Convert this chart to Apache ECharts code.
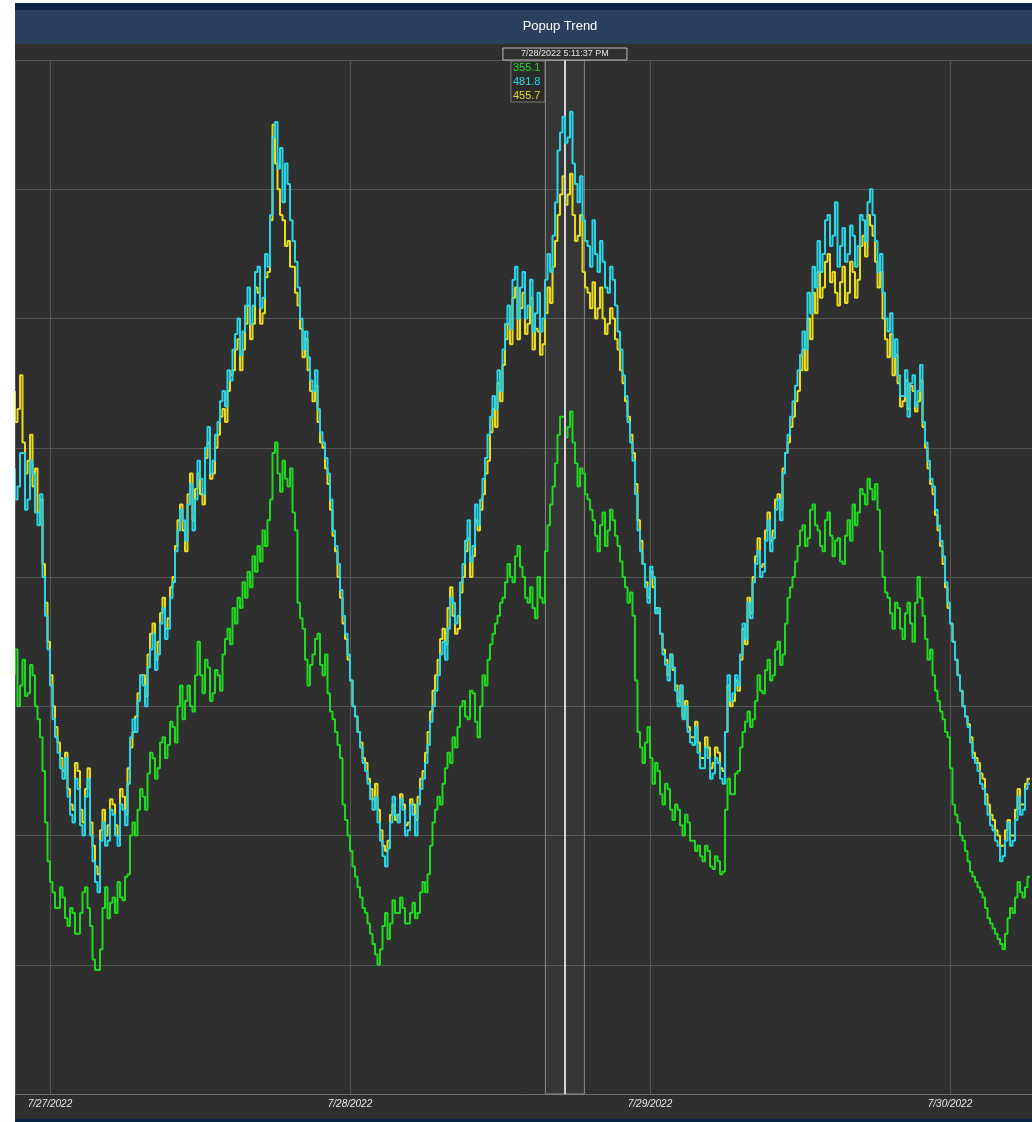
<!DOCTYPE html>
<html><head><meta charset="utf-8">
<script src="https://cdn.jsdelivr.net/npm/echarts@6/dist/echarts.min.js"></script>
<style>
html,body{margin:0;padding:0;background:#ffffff;}
#chart{position:absolute;left:15px;top:3px;width:1017px;height:1119px;}
</style></head><body><div id="chart"></div>
<script>
// ---- data ----
const titleText = 'Popup Trend';
const startTime = new Date(2022, 6, 26, 21, 12, 0).getTime();
const endTime = new Date(2022, 6, 30, 6, 33, 36).getTime();
const stepMinutes = 12;
const seriesNames = ['Green', 'Cyan', 'Yellow'];
const seriesColors = ['#1fd81f', '#2ad6e6', '#e8dc1e'];
const xAxisLabels = ['7/27/2022', '7/28/2022', '7/29/2022', '7/30/2022'];
const labelDays = [27, 28, 29, 30];
const cursorTime = new Date(2022, 6, 28, 17, 11, 37).getTime();
const cursorHalfWidthHours = 1.56;
const cursorLabel = '7/28/2022 5:11:37 PM';
const cursorValues = [355.1, 481.8, 455.7];

const greenValues = [
262,272,250,258,268,254,255,266,262,250,
245,238,225,205,190,182,178,172,172,180,
176,168,165,172,170,162,162,170,178,180,
172,165,152,148,148,156,172,180,168,174,
176,170,182,176,175,184,185,200,205,200,
210,218,215,210,224,232,230,222,226,236,
238,230,235,244,242,236,250,258,245,252,
258,250,248,262,275,262,255,268,265,252,
255,264,262,256,270,276,280,274,288,282,
292,288,298,292,302,296,308,302,312,306,
318,312,322,330,348,352,340,333,345,338,
335,342,325,318,290,284,280,268,258,266,
270,276,278,266,262,270,255,248,245,240,
235,230,212,206,200,194,188,184,180,176,
172,170,166,162,158,154,150,156,165,170,
160,166,175,170,170,176,172,166,166,170,
174,168,170,178,182,178,185,196,205,210,
215,212,220,226,232,228,238,234,242,250,
252,246,245,256,255,244,238,250,262,258,
268,274,278,282,285,290,292,298,305,300,
298,308,312,304,300,292,290,296,288,284,
300,292,290,310,320,328,335,344,355,362,
362,354,358,364,352,344,335,342,340,332,
330,326,322,316,310,320,325,312,318,326,
322,316,312,306,300,296,290,294,285,260,
240,234,228,236,242,230,220,228,225,216,
212,220,218,210,206,212,210,204,200,208,
205,198,198,194,196,192,190,196,194,188,
187,192,190,185,186,210,222,216,216,224,
225,234,240,244,248,242,245,252,262,256,
255,264,268,260,262,272,275,266,270,282,
292,296,300,306,312,318,320,312,315,326,
328,320,318,312,310,322,325,316,308,314,
315,306,305,316,322,314,328,320,325,334,
332,328,338,334,330,336,326,310,300,294,
292,286,280,290,288,280,276,286,290,282,
275,290,300,292,285,276,268,272,262,256,
252,248,245,240,238,226,212,208,205,200,
198,194,190,186,184,182,180,178,176,172,
168,166,164,162,160,158,156,162,168,172,
170,176,182,178,176,180,184
];
const cyanValues = [
342,330,335,348,348,326,330,345,340,325,
320,332,300,285,272,258,245,238,232,226,
222,230,215,208,205,222,218,204,200,215,
222,200,190,182,178,198,205,196,198,210,
208,200,196,212,210,204,220,238,245,240,
252,262,258,250,265,272,278,264,270,282,
288,276,280,292,298,310,318,326,322,314,
328,336,318,330,345,338,332,350,358,340,
345,355,360,368,372,366,380,376,388,394,
400,386,395,405,412,398,405,418,420,404,
408,425,420,440,470,476,458,466,445,460,
452,438,430,422,412,400,388,395,385,376,
372,380,365,356,352,346,340,330,318,312,
305,295,285,278,270,260,250,246,240,234,
228,225,220,214,210,215,205,198,192,188,
195,205,215,208,205,214,210,200,202,212,
208,200,212,218,222,228,235,244,250,256,
262,270,275,268,280,292,290,282,285,298,
305,314,322,306,312,328,320,330,338,346,
355,362,370,365,380,372,388,398,405,396,
415,420,400,412,418,400,405,415,395,402,
410,395,400,415,425,418,432,445,465,472,
478,468,470,480,460,452,445,455,438,430,
428,420,438,425,418,430,422,412,410,420,
415,405,395,388,378,370,360,352,345,332,
318,310,305,296,290,304,300,286,288,278,
270,266,260,270,265,256,250,258,245,250,
240,236,235,242,232,226,226,234,230,222,
224,230,228,222,220,240,262,252,255,262,
258,270,282,276,290,284,298,305,310,300,
302,314,322,310,315,326,330,322,340,348,
355,362,368,374,380,386,395,388,410,402,
420,412,430,418,425,438,440,428,432,445,
420,428,435,422,425,436,432,420,428,440,
438,430,445,450,440,430,418,425,410,400,
395,402,385,392,378,370,370,380,362,375,
378,366,372,382,360,352,345,338,335,326,
320,314,308,298,290,282,275,268,262,256,
250,246,242,236,230,228,225,220,218,212,
208,204,202,198,196,190,192,198,205,196,
198,206,215,208,210,218,220
];
const yellowValues = [
372,360,365,378,352,340,345,355,335,342,
325,330,305,290,275,262,250,242,236,230,
225,232,218,212,210,228,225,210,205,218,
226,205,196,188,185,202,210,200,204,214,
212,204,200,218,215,208,226,234,240,246,
255,262,262,254,270,278,282,268,275,286,
292,280,284,296,300,312,322,328,318,310,
332,340,322,334,340,332,328,346,352,338,
340,350,355,362,365,360,372,378,380,388,
392,380,388,398,405,392,398,412,410,398,
402,416,418,438,475,460,450,440,438,428,
430,420,420,410,405,396,385,392,380,372,
368,374,360,352,350,342,336,326,316,310,
300,292,282,276,268,260,250,246,240,236,
230,228,222,218,214,220,210,202,196,194,
198,208,212,206,208,216,212,204,205,214,
212,206,215,222,225,232,240,248,256,262,
268,276,280,274,288,296,285,278,280,294,
300,310,315,300,308,322,318,326,332,340,
345,356,365,358,375,368,382,392,398,390,
408,412,392,404,410,394,398,408,388,396,
395,386,390,402,412,406,420,430,440,448,
455,444,448,456,440,430,432,440,418,412,
410,404,414,400,404,412,400,394,398,404,
400,392,388,380,375,368,362,355,348,336,
322,314,305,298,292,302,296,288,286,278,
272,268,262,270,264,258,252,258,246,252,
242,238,238,244,236,230,230,238,234,226,
228,234,232,226,225,240,258,250,252,260,
256,268,280,274,292,286,300,308,315,304,
305,318,325,314,318,330,332,326,342,348,
352,358,362,368,372,380,388,380,400,392,
410,402,418,408,412,422,425,414,418,410,
405,414,420,406,410,422,418,408,415,428,
432,424,440,436,432,422,412,418,400,392,
385,394,378,386,375,366,368,376,365,374,
372,364,368,376,358,350,342,336,332,324,
318,312,305,296,288,282,275,268,262,256,
250,246,243,238,232,230,228,224,222,216,
212,208,206,202,200,196,196,202,206,200,
200,210,218,212,212,220,222
];

// ---- build ----
const times = greenValues.map((_, i) => startTime + i * stepMinutes * 60000);
const pair = vals => vals.map((v, i) => [times[i], v]);
const valueSets = [greenValues, cyanValues, yellowValues];
const drawOrder = [0, 2, 1];
const FONT = '"Liberation Sans", Arial, sans-serif';
const dayMs = 86400000;

const chart = echarts.init(document.getElementById('chart'), null, {renderer: 'canvas'});

const series = drawOrder.map((idx, k) => {
  const s = {
    name: seriesNames[idx],
    type: 'line',
    step: 'start',
    showSymbol: false,
    symbol: 'none',
    data: pair(valueSets[idx]),
    lineStyle: {color: seriesColors[idx], width: 2},
    itemStyle: {color: seriesColors[idx]},
    z: 3 + k,
    animation: false
  };
  if (k === 0) {
    s.markArea = {
      silent: true,
      data: [[{xAxis: cursorTime - cursorHalfWidthHours * 3600000}, {xAxis: cursorTime + cursorHalfWidthHours * 3600000}]],
      itemStyle: {color: 'rgba(255,255,255,0.035)', borderColor: '#8a8a8a', borderWidth: 1}
    };
    s.markLine = {
      silent: true,
      symbol: 'none',
      animation: false,
      label: {show: false},
      lineStyle: {color: '#d4d4d4', type: 'solid', width: 2},
      data: [{xAxis: cursorTime}]
    };
  }
  return s;
});

chart.setOption({
  backgroundColor: '#2f2f2f',
  animation: false,
  grid: {left: 0, right: 0, top: 57, bottom: 28, containLabel: false},
  xAxis: {
    type: 'time',
    min: startTime,
    max: endTime,
    minInterval: dayMs,
    maxInterval: dayMs,
    axisLine: {show: true, lineStyle: {color: '#6e6e6e', width: 1}},
    axisTick: {show: false},
    splitLine: {show: true, lineStyle: {color: '#555555', width: 1}},
    axisLabel: {
      show: true,
      color: '#e8e8e8',
      fontSize: 10,
      fontStyle: 'italic',
      fontFamily: FONT,
      margin: 5,
      showMinLabel: false,
      showMaxLabel: false,
      formatter: function (v) {
        const d = new Date(v);
        if (d.getHours() !== 0 || d.getMinutes() !== 0) return '';
        const i = labelDays.indexOf(d.getDate());
        return i >= 0 ? xAxisLabels[i] : '';
      }
    }
  },
  yAxis: {
    type: 'value',
    min: 100,
    max: 500,
    interval: 50,
    axisLine: {show: false},
    axisTick: {show: false},
    axisLabel: {show: false},
    splitLine: {show: true, lineStyle: {color: '#555555', width: 1}}
  },
  tooltip: {show: false},
  series: series
});

// ---- decorations positioned through the chart's own scales ----
const W = chart.getWidth();
const H = chart.getHeight();
const p = chart.convertToPixel({xAxisIndex: 0, yAxisIndex: 0}, [cursorTime, 500]);
const cx = p[0], cy = p[1];
const valueOrder = [0, 1, 2];
const graphics = [
  {type: 'rect', shape: {x: 0, y: 0, width: W, height: 7}, style: {fill: '#0b2545'}, z: 100},
  {type: 'rect', shape: {x: 0, y: 7, width: W, height: 34}, style: {fill: '#2b3f5f'}, z: 100},
  {type: 'text', x: 545, y: 23, style: {text: titleText, fill: '#ffffff', font: '13px ' + FONT, align: 'center', verticalAlign: 'middle'}, z: 101},
  {type: 'rect', shape: {x: 0, y: H - 3, width: W, height: 3}, style: {fill: '#0b2545'}, z: 100},
  {type: 'rect', shape: {x: cx - 62, y: cy - 12, width: 124, height: 12}, style: {fill: '#2f2f2f', stroke: '#bdbdbd', lineWidth: 1}, z: 100},
  {type: 'text', x: cx, y: cy - 6, style: {text: cursorLabel, fill: '#e6e6e6', font: '9px ' + FONT, align: 'center', verticalAlign: 'middle'}, z: 101},
  {type: 'rect', shape: {x: cx - 54, y: cy + 1, width: 34, height: 41}, style: {fill: '#2b2b2b', stroke: '#7a7a7a', lineWidth: 1}, z: 100}
];
valueOrder.forEach((idx, k) => {
  graphics.push({type: 'text', x: cx - 52, y: cy + 8 + k * 14,
    style: {text: cursorValues[idx].toFixed(1), fill: seriesColors[idx], font: '11px ' + FONT, align: 'left', verticalAlign: 'middle'}, z: 101});
});
chart.setOption({graphic: graphics});
</script>
</body></html>
